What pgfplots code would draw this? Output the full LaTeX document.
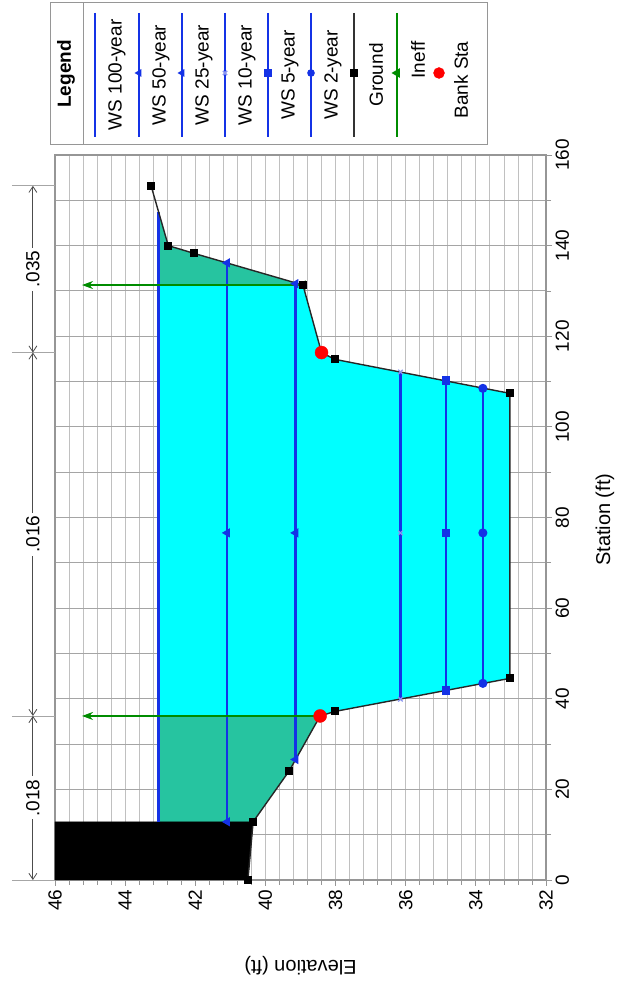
\documentclass[border=0pt]{standalone}
\usepackage{fontspec}
\setmainfont{Liberation Sans}
\usepackage{pgfplots}
\pgfplotsset{compat=1.18}
\usetikzlibrary{arrows.meta}
\definecolor{wsblue}{RGB}{20,50,230}
\definecolor{wslight}{RGB}{140,150,240}
\definecolor{tealfill}{RGB}{38,196,160}
\definecolor{cyanfill}{RGB}{0,255,255}
\definecolor{ineffgreen}{RGB}{0,140,0}
\definecolor{gridlight}{RGB}{192,192,192}
\definecolor{griddark}{RGB}{165,165,165}
\definecolor{framegray}{RGB}{150,150,150}
\begin{document}
\begin{tikzpicture}[font=\fontsize{19}{22}\selectfont]
\path[use as bounding box] (0,0) rectangle (621pt,993pt);
\begin{axis}[
  at={(55pt,113pt)}, anchor=south west,
  scale only axis, width=491pt, height=725pt,
  xmin=32, xmax=46, ymin=0, ymax=160, x dir=reverse,
  xtick={32,34,...,46}, ytick={0,20,...,160},
  minor x tick num=4, minor y tick num=1,
  grid=both,
  major x grid style={gridlight, line width=0.8pt},
  minor x grid style={gridlight, line width=0.8pt},
  major y grid style={griddark, line width=0.9pt},
  minor y grid style={griddark, line width=0.9pt},
  tick align=outside, xtick pos=bottom, ytick pos=right,
  yticklabel pos=right,
  major tick length=6pt, minor tick length=5pt,
  tick style={framegray, line width=0.8pt},
  axis line style={framegray, line width=1.3pt},
  xticklabel style={rotate=90, anchor=east, font=\fontsize{19}{22}\selectfont},
  yticklabel style={rotate=90, anchor=north, font=\fontsize{19}{22}\selectfont},
  /pgf/number format/assume math mode=true,
  clip=false,
  every axis x label/.style={at={(axis cs:39,-18.8)}, rotate=180, anchor=center, font=\fontsize{20}{24}\selectfont},
  every axis y label/.style={at={(axis cs:30.32,79.5)}, rotate=90, anchor=center, font=\fontsize{20}{24}\selectfont},
  xlabel={Elevation (ft)}, ylabel={Station (ft)},
]
% wetted area (ineffective parts show teal)
\addplot[fill=tealfill, draw=none] coordinates {
 (43.05,12.85) (43.05,147.5) (42.77,140) (42.04,138.3) (38.93,131.3)
 (38.4,116.4) (38.02,114.9) (33.03,107.4) (33.03,44.5) (38.02,37.2)
 (38.44,36.2) (39.32,24.1) (40.35,12.85) (43.05,12.85)};
% effective flow area
\addplot[fill=cyanfill, draw=none] coordinates {
 (43.05,36.2) (43.05,131.3) (38.93,131.3) (38.4,116.4) (38.02,114.9)
 (33.03,107.4) (33.03,44.5) (38.02,37.2) (38.44,36.2) (43.05,36.2)};
% blocked obstruction
\addplot[fill=black, draw=black] coordinates {
 (40.5,0) (40.35,12.85) (46,12.85) (46,0) (40.5,0)};
% water surfaces
\addplot[wsblue, line width=2.2pt] coordinates {(43.05,12.85) (43.05,147.5)};
\addplot[wsblue, line width=2.2pt, mark=triangle*, mark size=3.2pt, mark options={rotate=90}] coordinates {(41.09,12.85) (41.09,76.6) (41.09,136.2)};
\addplot[wsblue, line width=2.2pt, mark=triangle*, mark size=3.2pt, mark options={rotate=90}] coordinates {(39.14,26.6) (39.14,76.6) (39.14,131.6)};
\addplot[wsblue, line width=2.2pt, mark=x, mark size=3.2pt, mark options={wslight, line width=1.2pt}] coordinates {(36.15,39.9) (36.15,76.6) (36.15,112.1)};
\addplot[wsblue, line width=2.2pt, mark=square*, mark size=3.2pt] coordinates {(34.85,41.8) (34.85,76.6) (34.85,110.2)};
\addplot[wsblue, line width=2.2pt, mark=*, mark size=3.4pt] coordinates {(33.8,43.4) (33.8,76.6) (33.8,108.5)};
% ineffective flow limits
\addplot[ineffgreen, line width=1.5pt, -{Stealth[length=11pt,width=8pt]}] coordinates {(38.93,131.3) (45.23,131.3)};
\addplot[ineffgreen, line width=1.5pt, -{Stealth[length=11pt,width=8pt]}] coordinates {(38.44,36.2) (45.23,36.2)};
\addplot[only marks, ineffgreen, mark=triangle*, mark size=5pt, mark options={rotate=90}] coordinates {(38.93,131.3) (38.44,36.2)};
% ground
\addplot[black!85, line width=1.4pt, mark=square*, mark size=3.3pt, mark options={black}] coordinates {
 (40.5,0) (40.35,12.85) (39.32,24.1) (38.44,36.2) (38.02,37.2) (33.03,44.5)
 (33.03,107.4) (38.02,114.9) (38.4,116.4) (38.93,131.3) (42.04,138.3)
 (42.77,140) (43.26,153.2)};
% bank stations
\addplot[only marks, red, mark=*, mark size=6.5pt] coordinates {(38.4,116.4) (38.44,36.2)};
% Manning's n dimension line
\draw[gray!70, line width=0.8pt] (axis cs:47.23,0) -- (axis cs:46,0);
\draw[gray!70, line width=0.8pt] (axis cs:47.23,36.2) -- (axis cs:46,36.2);
\draw[gray!70, line width=0.8pt] (axis cs:47.23,116.4) -- (axis cs:46,116.4);
\draw[gray!70, line width=0.8pt] (axis cs:47.23,153.2) -- (axis cs:46,153.2);
\draw[black!70, line width=0.8pt, {Straight Barb[length=6pt,width=8pt]}-{Straight Barb[length=6pt,width=8pt]}] (axis cs:46.63,0) -- (axis cs:46.63,36.2);
\draw[black!70, line width=0.8pt, {Straight Barb[length=6pt,width=8pt]}-{Straight Barb[length=6pt,width=8pt]}] (axis cs:46.63,36.2) -- (axis cs:46.63,116.4);
\draw[black!70, line width=0.8pt, {Straight Barb[length=6pt,width=8pt]}-{Straight Barb[length=6pt,width=8pt]}] (axis cs:46.63,116.4) -- (axis cs:46.63,153.2);
\node[rotate=90, fill=white, inner sep=3pt] at (axis cs:46.63,18.1) {.018};
\node[rotate=90, fill=white, inner sep=3pt] at (axis cs:46.63,76.3) {.016};
\node[rotate=90, fill=white, inner sep=3pt] at (axis cs:46.63,134.8) {.035};
\end{axis}
% legend panel
\begin{axis}[
  at={(50pt,848pt)}, anchor=south west,
  scale only axis, width=437pt, height=142pt,
  xmin=50, xmax=487, ymin=3, ymax=145, y dir=reverse,
  xtick=\empty, ytick=\empty,
  axis line style={framegray, line width=1pt},
  clip=false,
]
\addplot[framegray, line width=1pt] coordinates {(83,3) (83,145)};
\node[rotate=90, font=\fontsize{19}{22}\selectfont\bfseries] at (axis cs:66,74) {Legend};
\addplot[wsblue, line width=1.5pt] coordinates {(95,13) (95,137)};
\addplot[wsblue, line width=1.5pt, mark=triangle*, mark size=3pt, mark indices={2}, mark options={rotate=90}] coordinates {(139,13) (139,73) (139,137)};
\addplot[wsblue, line width=1.5pt, mark=triangle*, mark size=3pt, mark indices={2}, mark options={rotate=90}] coordinates {(182,13) (182,73) (182,137)};
\addplot[wsblue, line width=1.5pt, mark=x, mark size=3pt, mark indices={2}, mark options={wslight}] coordinates {(225,13) (225,73) (225,137)};
\addplot[wsblue, line width=1.5pt, mark=square*, mark size=3pt, mark indices={2}] coordinates {(268,13) (268,73) (268,137)};
\addplot[wsblue, line width=1.5pt, mark=*, mark size=3pt, mark indices={2}] coordinates {(311,13) (311,73) (311,137)};
\addplot[black!80, line width=1.5pt, mark=square*, mark size=3pt, mark indices={2}, mark options={black}] coordinates {(354,13) (354,73) (354,137)};
\addplot[ineffgreen, line width=1.5pt, mark=triangle*, mark size=4pt, mark indices={2}, mark options={rotate=90}] coordinates {(397,13) (397,73) (397,137)};
\addplot[only marks, red, mark=*, mark size=5.5pt] coordinates {(439,73)};
\node[rotate=90] at (axis cs:117,75) {WS 100-year};
\node[rotate=90] at (axis cs:161,75) {WS 50-year};
\node[rotate=90] at (axis cs:204,75) {WS 25-year};
\node[rotate=90] at (axis cs:247,75) {WS 10-year};
\node[rotate=90] at (axis cs:290,75) {WS 5-year};
\node[rotate=90] at (axis cs:333,75) {WS 2-year};
\node[rotate=90] at (axis cs:376,75) {Ground};
\node[rotate=90] at (axis cs:418,60) {Ineff};
\node[rotate=90] at (axis cs:461,80) {Bank Sta};
\end{axis}
\end{tikzpicture}
\end{document}
